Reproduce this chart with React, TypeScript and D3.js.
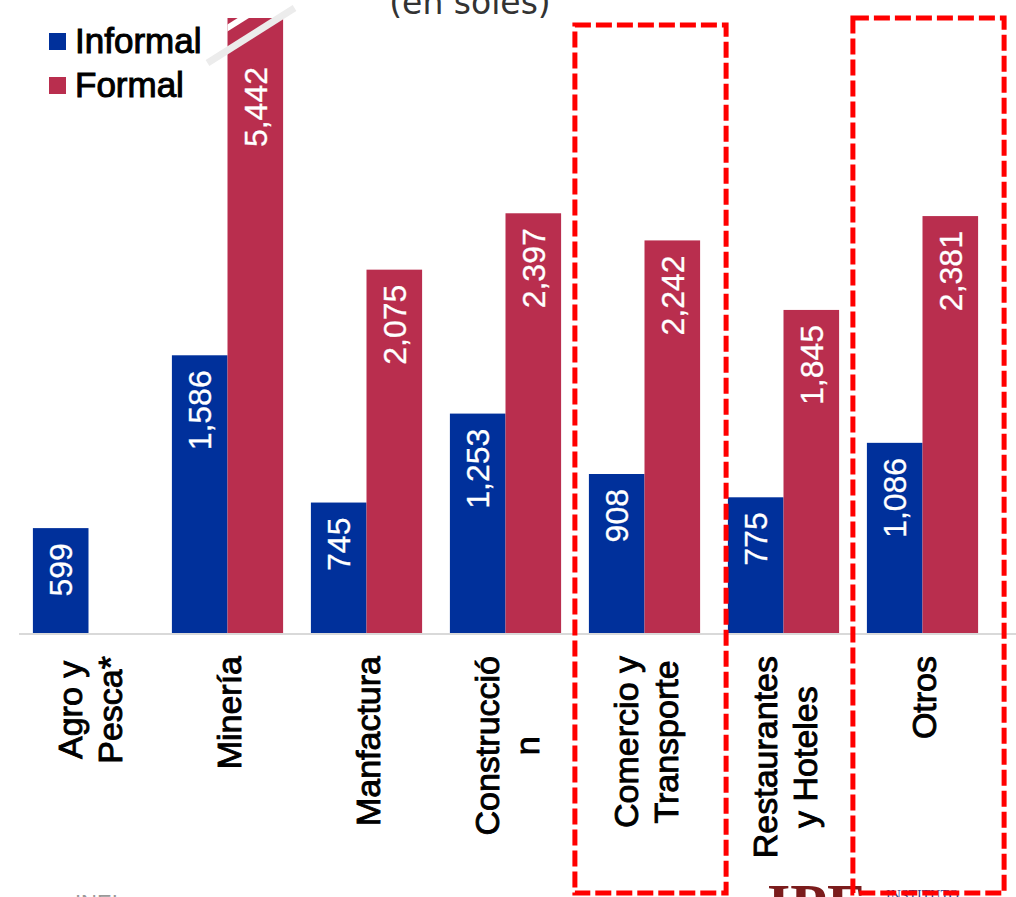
import React from "react";
import * as d3 from "d3";

const categories = [
  ["Agro y", "Pesca*"],
  ["Minería"],
  ["Manfactura"],
  ["Construcció", "n"],
  ["Comercio y", "Transporte"],
  ["Restaurantes", "y Hoteles"],
  ["Otros"],
];
const categoryKeys = ["agro", "mineria", "manufactura", "construccion", "comercio", "restaurantes", "otros"];
const informal = [599, 1586, 745, 1253, 908, 775, 1086];
const formal = [0, 5442, 2075, 2397, 2242, 1845, 2381];
const seriesNames = ["Informal", "Formal"];
const seriesColors = ["#00309b", "#b92e4e"];
const highlighted = ["comercio", "otros"];

const W = 1016;
const H = 897;
const LABEL_FONT = "34px 'Liberation Sans', Arial, sans-serif";

function measure(text: string): number {
  if (typeof document === "undefined") return text.length * 17;
  const c = document.createElement("canvas");
  const ctx = c.getContext("2d");
  if (!ctx) return text.length * 17;
  ctx.font = LABEL_FONT;
  return ctx.measureText(text).width;
}

export default function App() {
  const x = d3.scaleBand<string>().domain(categoryKeys).range([19, 992]).paddingInner(0.2).paddingOuter(0.1);
  const x1 = d3.scaleBand<string>().domain(seriesNames).range([0, x.bandwidth()]);
  const y = d3.scaleLinear().domain([0, 3615]).range([633, 0]);
  const breakTop = 18;
  const fmt = d3.format(",");

  const bars: any[] = [];
  categoryKeys.forEach((k, i) => {
    [informal[i], formal[i]].forEach((v, s) => {
      if (v <= 0) return;
      const bx = (x(k) as number) + (x1(seriesNames[s]) as number);
      const top = Math.max(y(v), breakTop);
      bars.push({ k, s, v, bx, top, w: x1.bandwidth(), broken: y(v) < breakTop });
    });
  });

  const broken = bars.find((b) => b.broken);
  const blockWidths = categories.map((lines) => Math.max(...lines.map(measure)));

  return (
    <svg width={W} height={H} style={{ position: "fixed", left: 0, top: 0, background: "#fff" }}>
      <rect x={0} y={0} width={W} height={H} fill="#fff" />
      {/* title (cut) */}
      <text x={470} y={14} textAnchor="middle" fontFamily="DejaVu Sans" fontSize={33} fill="#333">
        (en soles)
      </text>
      {/* axis line */}
      <line x1={19} x2={W} y1={634} y2={634} stroke="#d9d9d9" strokeWidth={2} />
      {/* bars */}
      {bars.map((b, i) => (
        <rect key={i} x={b.bx} y={b.top} width={b.w} height={y(0) - b.top} fill={seriesColors[b.s]} />
      ))}
      {/* axis break on the tall bar */}
      {broken && (
        <g>
          <clipPath id="brk">
            <rect x={broken.bx} y={broken.top} width={broken.w} height={100} />
          </clipPath>
          <line
            x1={broken.bx - 10}
            y1={28 + 0.632 * 10}
            x2={broken.bx + broken.w + 10}
            y2={28 - 0.632 * (broken.w + 10)}
            stroke="#fff"
            strokeWidth={6}
            clipPath="url(#brk)"
          />
          <line x1={broken.bx - 20} y1={63} x2={broken.bx + 67} y2={8} stroke="#ececec" strokeWidth={7} />
        </g>
      )}
      {/* value labels */}
      {bars.map((b, i) => {
        const cx = b.bx + b.w / 2;
        const ty = b.broken ? 67 : b.top + 15;
        return (
          <text
            key={"v" + i}
            transform={`translate(${cx},${ty}) rotate(-90)`}
            textAnchor="end"
            dy="0.36em"
            fontFamily="Liberation Sans, Arial, sans-serif"
            fontSize={32}
            fill="#fff"
            stroke="#fff"
            strokeWidth={0.3}
          >
            {fmt(b.v)}
          </text>
        );
      })}
      {/* category labels */}
      {categoryKeys.map((k, i) => {
        const cx = (x(k) as number) + x.bandwidth() / 2;
        const lines = categories[i];
        const midY = 656 + blockWidths[i] / 2;
        return lines.map((ln, j) => {
          const bx = cx + 13 + (j - (lines.length - 1) / 2) * 40;
          return (
            <text
              key={k + j}
              transform={`translate(${bx},${midY}) rotate(-90)`}
              textAnchor="middle"
              fontFamily="Liberation Sans, Arial, sans-serif"
              fontSize={34}
              fill="#000"
              stroke="#000"
              strokeWidth={0.9}
            >
              {ln}
            </text>
          );
        });
      })}
      {/* legend */}
      {seriesNames.map((s, i) => (
        <g key={s} transform={`translate(49,${33 + i * 44})`}>
          <rect x={0} y={0} width={17} height={17} fill={seriesColors[i]} />
          <text
            x={26}
            y={20}
            fontFamily="Liberation Sans, Arial, sans-serif"
            fontSize={35}
            fill="#000"
            stroke="#000"
            strokeWidth={1}
          >
            {s}
          </text>
        </g>
      ))}
      {/* source + logo (cut off at bottom, as in the reference) */}
      <text x={75} y={910} fontFamily="Liberation Sans, Arial, sans-serif" fontSize={22} fill="#999">
        INEI
      </text>
      <text x={767} y={925} fontFamily="Liberation Serif, serif" fontSize={60} fontWeight="bold" fill="#7b1c1c">
        IPE
      </text>
      <text x={886} y={900} fontFamily="Liberation Serif, serif" fontSize={14} fill="#1f3a8a">
        INSTITUTO
      </text>
      {/* highlight boxes */}
      {highlighted.map((k, i) => {
        const bx0 = (x(k) as number) - 14;
        const bx1 = (x(k) as number) + x.bandwidth() + 26;
        const top = i === 0 ? 25 : 18;
        return (
          <rect
            key={"h" + k}
            x={bx0}
            y={top}
            width={bx1 - bx0}
            height={893 - top}
            fill="none"
            stroke="#ff0000"
            strokeWidth={5}
            strokeDasharray="16 5"
          />
        );
      })}
    </svg>
  );
}
